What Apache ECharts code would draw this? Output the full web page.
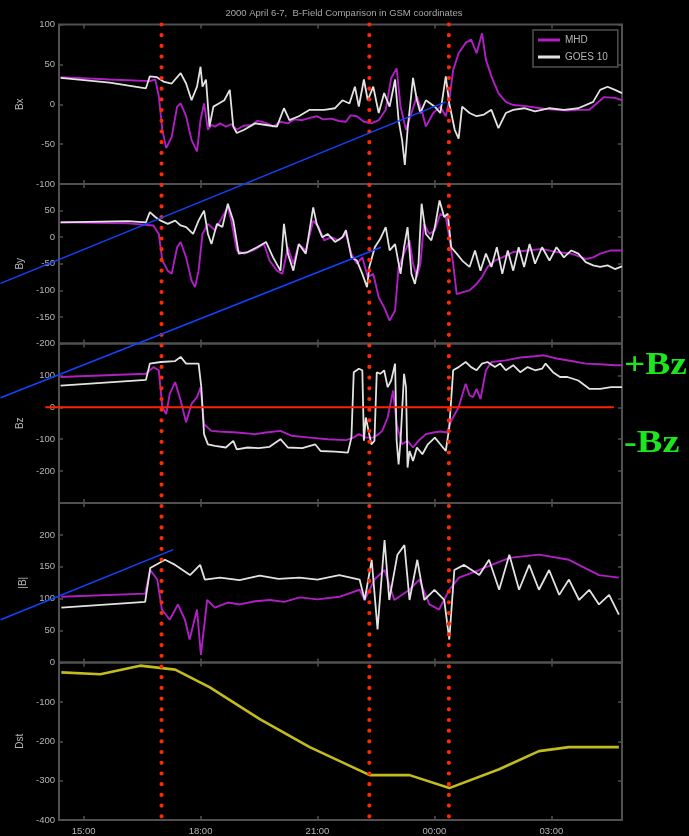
<!DOCTYPE html>
<html>
<head>
<meta charset="utf-8">
<script src="https://cdn.jsdelivr.net/npm/echarts@6/dist/echarts.min.js"></script>
<style>
  html, body { margin: 0; padding: 0; background: #000; }
  #chart { width: 689px; height: 836px; }
</style>
</head>
<body>
<div id="chart"></div>
<script>
// Time is in decimal hours from 2000-04-06 00:00 UT (24 = 00:00 on April 7).
const timeRange = [14.37, 28.81];
const timeTicks = [15, 18, 21, 24, 27];
const eventTimes = [17.0, 22.33, 24.37];

const panelNames = ['Bx', 'By', 'Bz', '|B|', 'Dst'];
const panelMin = [-100, -200, -300, 0, -400];
const panelMax = [100, 100, 200, 250, 0];
const panelStep = [50, 50, 100, 50, 100];

// Bx (nT)
const bxMHD = [[14.41,34],[15.67,31],[16.70,29],[16.84,31],[16.93,10],[17.02,-32],[17.12,-55],[17.26,-41],[17.40,-3],[17.49,1],[17.63,-15],[17.77,-45],[17.91,-59],[18.00,-20],[18.09,1],[18.19,-32],[18.28,-26],[18.37,-28],[18.50,-24],[18.65,-28],[18.80,-25],[18.93,-32],[19.10,-27],[19.31,-26],[19.45,-21],[19.59,-22],[19.75,-25],[19.86,-28],[20.05,-22],[20.24,-24],[20.40,-19],[20.61,-20],[20.80,-17],[20.98,-15],[21.15,-19],[21.36,-18],[21.55,-21],[21.73,-22],[21.85,-14],[22.01,-15],[22.19,-22],[22.38,-24],[22.57,-20],[22.75,-7],[22.89,33],[23.03,45],[23.13,-3],[23.27,-32],[23.41,-11],[23.55,10],[23.69,-11],[23.78,-28],[23.97,-11],[24.15,-3],[24.29,-15],[24.38,5],[24.48,43],[24.62,64],[24.80,77],[24.94,81],[25.08,64],[25.22,89],[25.32,56],[25.46,35],[25.64,14],[25.83,3],[26.02,-1],[26.30,-2],[26.58,-4],[26.85,-6],[27.13,-7],[27.41,-8],[27.69,-7],[27.97,-7],[28.16,1],[28.35,9],[28.63,8],[28.81,5]];
const bxGOES = [[14.41,33],[15.67,27],[16.60,20],[16.70,35],[16.88,34],[17.07,28],[17.26,26],[17.49,39],[17.63,26],[17.77,5],[17.91,22],[18.00,47],[18.05,22],[18.14,31],[18.23,-28],[18.33,-3],[18.47,1],[18.61,5],[18.75,18],[18.84,-28],[18.93,-36],[19.12,-32],[19.40,-24],[19.68,-26],[19.96,-28],[20.14,-5],[20.28,-20],[20.52,-15],[20.80,-7],[21.17,-7],[21.45,-5],[21.64,5],[21.82,1],[21.96,22],[22.06,-3],[22.19,31],[22.29,5],[22.43,22],[22.57,-11],[22.71,14],[22.85,-3],[22.99,31],[23.08,-20],[23.17,-45],[23.24,-76],[23.31,-32],[23.45,33],[23.55,5],[23.64,-11],[23.78,5],[24.01,-3],[24.15,-11],[24.29,35],[24.38,1],[24.52,-32],[24.62,-43],[24.71,-3],[24.90,-11],[25.08,-15],[25.27,-13],[25.46,-7],[25.64,-30],[25.83,-11],[26.02,-7],[26.30,-5],[26.58,-9],[26.95,-5],[27.32,-7],[27.69,-5],[28.07,3],[28.25,18],[28.44,22],[28.63,18],[28.81,14]];

// By (nT)
const byMHD = [[14.41,28],[16.14,26],[16.79,22],[16.93,6],[17.02,-44],[17.16,-63],[17.26,-69],[17.40,-19],[17.49,-9],[17.63,-38],[17.77,-82],[17.86,-94],[17.95,-63],[18.05,6],[18.19,25],[18.37,13],[18.56,38],[18.70,56],[18.79,31],[18.93,-25],[19.12,-31],[19.35,-25],[19.63,-13],[19.77,-44],[19.96,-63],[20.10,-69],[20.24,-19],[20.38,-50],[20.52,-13],[20.70,-25],[20.89,31],[21.03,19],[21.17,-6],[21.36,0],[21.54,-6],[21.73,6],[21.87,-31],[22.01,-50],[22.15,-38],[22.29,-75],[22.43,-69],[22.57,-113],[22.71,-132],[22.85,-157],[22.99,-138],[23.08,-56],[23.22,-31],[23.36,-6],[23.45,-50],[23.55,-75],[23.64,-50],[23.73,25],[23.87,6],[24.01,13],[24.15,44],[24.29,38],[24.38,0],[24.48,-50],[24.57,-107],[24.71,-104],[24.90,-100],[25.08,-88],[25.22,-75],[25.36,-56],[25.55,-44],[25.74,-38],[26.02,-28],[26.39,-25],[26.76,-22],[27.13,-28],[27.51,-31],[27.88,-41],[28.07,-38],[28.25,-31],[28.53,-25],[28.81,-25]];
const byGOES = [[14.41,28],[16.14,30],[16.60,28],[16.70,47],[16.84,38],[16.98,31],[17.16,25],[17.35,31],[17.49,22],[17.63,19],[17.81,6],[17.95,31],[18.09,50],[18.19,6],[18.28,-13],[18.42,25],[18.56,19],[18.70,63],[18.84,31],[18.98,-31],[19.21,-28],[19.45,-19],[19.68,-9],[19.86,-38],[20.05,-63],[20.14,25],[20.24,-31],[20.38,-63],[20.52,-13],[20.70,-31],[20.89,56],[20.98,25],[21.12,0],[21.26,6],[21.45,-9],[21.64,0],[21.73,13],[21.87,-38],[22.01,-44],[22.15,-69],[22.27,-94],[22.33,-56],[22.47,-19],[22.61,-3],[22.75,19],[22.85,-25],[22.99,-13],[23.13,-69],[23.22,-19],[23.31,19],[23.41,-69],[23.50,-88],[23.59,-50],[23.67,63],[23.78,6],[23.92,-6],[24.01,19],[24.13,69],[24.25,38],[24.34,44],[24.43,-19],[24.57,-31],[24.71,-44],[24.90,-56],[25.04,-25],[25.18,-63],[25.32,-31],[25.46,-56],[25.60,-19],[25.74,-69],[25.88,-25],[26.02,-63],[26.16,-19],[26.30,-56],[26.44,-13],[26.58,-50],[26.76,-19],[26.95,-44],[27.13,-19],[27.32,-38],[27.51,-25],[27.69,-31],[27.88,-47],[28.07,-53],[28.25,-56],[28.44,-53],[28.63,-60],[28.81,-55]];

// Bz (nT)
const bzMHD = [[14.41,95],[16.60,105],[16.79,126],[16.93,116],[17.02,0],[17.12,-21],[17.21,42],[17.35,79],[17.49,21],[17.63,-47],[17.77,11],[17.91,32],[18.00,63],[18.09,-53],[18.28,-74],[18.47,-76],[18.93,-79],[19.40,-84],[19.68,-79],[20.05,-74],[20.33,-89],[20.80,-95],[21.26,-100],[21.73,-103],[21.92,-95],[22.06,-84],[22.24,-95],[22.43,-95],[22.57,-84],[22.66,-74],[22.80,-32],[22.94,53],[23.03,-53],[23.17,-116],[23.31,-105],[23.45,-126],[23.59,-105],[23.78,-84],[23.97,-79],[24.15,-76],[24.32,-79],[24.43,-42],[24.62,0],[24.80,74],[24.90,37],[24.99,32],[25.08,58],[25.18,26],[25.32,116],[25.46,142],[25.83,147],[26.20,156],[26.58,160],[26.81,163],[27.13,153],[27.51,145],[27.88,137],[28.25,135],[28.63,132],[28.81,132]];
const bzGOES = [[14.41,68],[16.60,86],[16.70,137],[16.98,142],[17.35,145],[17.49,158],[17.63,137],[17.95,137],[18.02,63],[18.09,-84],[18.19,-116],[18.37,-121],[18.65,-126],[18.84,-105],[18.93,-132],[19.21,-126],[19.49,-128],[19.77,-124],[20.05,-100],[20.24,-126],[20.61,-128],[20.94,-116],[21.08,-137],[21.45,-139],[21.78,-142],[21.87,-95],[21.93,110],[22.06,121],[22.15,116],[22.19,-105],[22.24,-32],[22.31,-74],[22.38,-116],[22.46,-105],[22.52,110],[22.61,105],[22.71,116],[22.80,63],[22.89,84],[22.99,137],[23.03,-105],[23.08,-179],[23.13,-105],[23.22,105],[23.27,63],[23.31,-189],[23.36,-137],[23.45,-168],[23.55,-126],[23.69,-147],[23.83,-116],[24.01,-95],[24.15,-116],[24.29,-137],[24.38,-63],[24.48,116],[24.62,126],[24.80,142],[24.94,126],[25.08,116],[25.22,137],[25.36,142],[25.55,126],[25.69,137],[25.83,116],[26.02,132],[26.20,110],[26.39,126],[26.58,116],[26.76,121],[26.85,137],[27.04,110],[27.22,95],[27.41,95],[27.69,84],[27.97,58],[28.25,58],[28.53,63],[28.81,63]];

// |B| (nT)
const btMHD = [[14.43,103],[16.58,108],[16.71,145],[16.89,130],[17.01,83],[17.21,67],[17.42,91],[17.60,67],[17.72,36],[17.91,83],[18.01,12],[18.17,98],[18.37,86],[18.70,94],[19.01,91],[19.40,96],[19.78,98],[20.15,95],[20.54,102],[21.00,99],[21.56,103],[22.08,114],[22.21,98],[22.46,130],[22.72,145],[22.97,98],[23.36,114],[23.61,130],[23.87,91],[24.12,83],[24.38,114],[24.63,133],[25.15,145],[25.92,164],[26.68,169],[27.45,161],[28.22,137],[28.73,133]];
const btGOES = [[14.43,86],[16.58,95],[16.71,148],[17.09,161],[17.35,153],[17.73,137],[17.99,153],[18.11,130],[18.50,133],[19.00,129],[19.52,136],[20.00,131],[20.54,133],[21.00,130],[21.56,137],[22.08,130],[22.21,98],[22.39,161],[22.54,52],[22.72,192],[22.84,98],[23.05,169],[23.23,184],[23.36,98],[23.56,161],[23.74,98],[24.00,114],[24.25,98],[24.38,36],[24.51,145],[24.76,153],[25.15,137],[25.40,161],[25.66,114],[25.92,169],[26.17,114],[26.43,153],[26.68,114],[26.94,145],[27.20,106],[27.45,130],[27.71,98],[27.97,114],[28.22,91],[28.48,106],[28.73,75]];

// Dst index (nT)
const dst = [[14.43,-25],[15.43,-30],[16.45,-8],[17.35,-18],[18.24,-63],[19.52,-144],[20.80,-215],[22.34,-286],[23.36,-286],[24.38,-319],[25.66,-271],[26.68,-225],[27.45,-215],[28.73,-215]];

const C_MHD = '#b01fc4';
const C_GOES = '#e2e2e2';
const C_DST = '#c4bc1c';
const C_AXIS = '#505050';
const C_TEXT = '#b4b4b4';

const gridTop = [24.5, 184, 343.5, 503, 662.5];
const gridH = 159.5;
const gridLeft = 59, gridRight = 67;

const chart = echarts.init(document.getElementById('chart'), null, { renderer: 'canvas' });

const tickStyle = { color: C_AXIS, width: 1.5 };
const grids = [], xAxes = [], yAxes = [];
for (let i = 0; i < 5; i++) {
  grids.push({ left: gridLeft, right: gridRight, top: gridTop[i], height: gridH,
    show: true, borderColor: C_AXIS, borderWidth: 2, backgroundColor: 'transparent' });
  const isLast = i === 4;
  xAxes.push({
    type: 'value', gridIndex: i, min: timeRange[0], max: timeRange[1], position: 'bottom',
    axisLine: { show: false, onZero: false }, splitLine: { show: false },
    axisTick: { show: true, inside: true, length: 4, customValues: timeTicks, lineStyle: tickStyle },
    axisLabel: { show: isLast, customValues: timeTicks, color: C_TEXT, fontSize: 9.5, margin: 6,
      fontFamily: 'Liberation Sans',
      formatter: v => String(Math.round(v) % 24).padStart(2, '0') + ':00' }
  });
  // mirrored ticks along the top edge of each panel
  xAxes.push({
    type: 'value', gridIndex: i, min: timeRange[0], max: timeRange[1], position: 'top',
    axisLine: { show: false, onZero: false }, splitLine: { show: false },
    axisTick: { show: true, inside: true, length: 4, customValues: timeTicks, lineStyle: tickStyle },
    axisLabel: { show: false }
  });
  yAxes.push({
    type: 'value', gridIndex: i, min: panelMin[i], max: panelMax[i], interval: panelStep[i], position: 'left',
    name: panelNames[i], nameLocation: 'middle', nameGap: 31, nameRotate: 90,
    nameTextStyle: { color: C_TEXT, fontSize: 10, fontFamily: 'Liberation Sans' },
    axisLine: { show: false, onZero: false }, splitLine: { show: false },
    axisTick: { show: true, inside: true, length: 4, lineStyle: tickStyle },
    axisLabel: { color: C_TEXT, fontSize: 9.5, margin: 4, fontFamily: 'Liberation Sans',
      showMaxLabel: i === 0, showMinLabel: i !== 2 }
  });
  // mirrored ticks along the right edge
  yAxes.push({
    type: 'value', gridIndex: i, min: panelMin[i], max: panelMax[i], interval: panelStep[i], position: 'right',
    axisLine: { show: false, onZero: false }, splitLine: { show: false },
    axisTick: { show: true, inside: true, length: 4, lineStyle: tickStyle },
    axisLabel: { show: false }
  });
}

function line(name, data, panel, color, width) {
  return {
    type: 'line', name, data, xAxisIndex: panel * 2, yAxisIndex: panel * 2,
    showSymbol: false, symbol: 'none', lineStyle: { color, width }, itemStyle: { color },
    animation: false, silent: true
  };
}

const series = [
  line('MHD', bxMHD, 0, C_MHD, 1.9), line('GOES 10', bxGOES, 0, C_GOES, 1.8),
  line('MHD', byMHD, 1, C_MHD, 1.9), line('GOES 10', byGOES, 1, C_GOES, 1.8),
  line('MHD', bzMHD, 2, C_MHD, 1.9), line('GOES 10', bzGOES, 2, C_GOES, 1.8),
  line('MHD', btMHD, 3, C_MHD, 1.9), line('GOES 10', btGOES, 3, C_GOES, 1.8),
  line('Dst', dst, 4, C_DST, 2.6)
];

chart.setOption({
  backgroundColor: '#000',
  animation: false,
  title: {
    text: '2000 April 6-7,  B-Field Comparison in GSM coordinates',
    left: 339, top: 3, textAlign: 'center',
    textStyle: { color: '#a8a8a8', fontSize: 9.5, fontWeight: 'normal', fontFamily: 'Liberation Sans' }
  },
  legend: {
    data: ['MHD', 'GOES 10'], orient: 'vertical', left: 533, top: 30,
    padding: [5, 10, 5, 5], itemGap: 7, itemWidth: 22, itemHeight: 3, icon: 'rect',
    borderColor: C_AXIS, borderWidth: 1.5, backgroundColor: '#000',
    textStyle: { color: C_TEXT, fontSize: 10, fontFamily: 'Liberation Sans' }
  },
  grid: grids, xAxis: xAxes, yAxis: yAxes, series
});

// Annotation overlays anchored to data coordinates
const px = (g, t, v) => chart.convertToPixel({ gridIndex: g }, [t, v]);
const seg = (a, b, stroke, lineWidth, extra) => ({
  type: 'line', silent: true, z: 100,
  shape: { x1: a[0], y1: a[1], x2: b[0], y2: b[1] },
  style: Object.assign({ stroke, lineWidth }, extra || {})
});

const graphics = [];
// storm-phase markers across all panels
eventTimes.forEach(t => {
  graphics.push(seg(px(0, t, 100), px(4, t, -400), '#ff2a00', 4.2, { lineDash: [0, 10.7], lineCap: 'round' }));
});
// Bz = 0 reference
graphics.push(seg(px(2, 14.02, 0), px(2, 28.6, 0), '#ff2200', 2));
// connecting guides
const BLUE = '#1244ff';
graphics.push(seg(px(1, 12.87, -87), px(0, 24.29, 3), BLUE, 1.5));
graphics.push(seg(px(2, 12.87, 30), px(1, 22.63, -19), BLUE, 1.5));
graphics.push(seg(px(3, 12.87, 67), px(3, 17.3, 177), BLUE, 1.5));
// polarity labels
const plus = px(2, timeRange[1], 130);
const minus = px(2, timeRange[1], -113);
const bzFont = 'bold 32px "Liberation Serif", "DejaVu Serif", serif';
graphics.push({ type: 'text', silent: true, z: 100, x: plus[0] + 2, y: plus[1], scaleX: 1.17,
  style: { text: '+Bz', fill: '#1ee61e', font: bzFont, textVerticalAlign: 'middle' } });
graphics.push({ type: 'text', silent: true, z: 100, x: minus[0] + 2, y: minus[1], scaleX: 1.2,
  style: { text: '-Bz', fill: '#1ee61e', font: bzFont, textVerticalAlign: 'middle' } });

chart.setOption({ graphic: graphics });
</script>
</body>
</html>
